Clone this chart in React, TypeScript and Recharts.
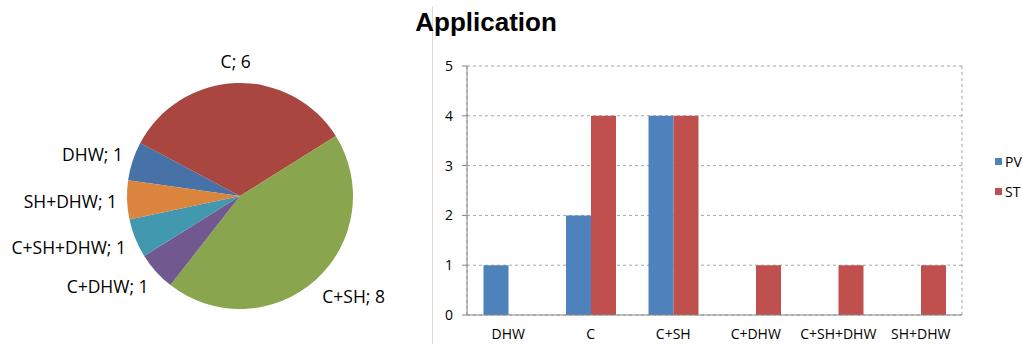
import React from 'react';
import {
  PieChart,
  Pie,
  Cell,
  BarChart,
  Bar,
  XAxis,
  YAxis,
  CartesianGrid
} from 'recharts';

const categories = ['DHW', 'C', 'C+SH', 'C+DHW', 'C+SH+DHW', 'SH+DHW'];
const totals = [1, 6, 8, 1, 1, 1];
const pvValues = [1, 2, 4, 0, 0, 0];
const stValues = [0, 4, 4, 1, 1, 1];
const yTicks = [0, 1, 2, 3, 4, 5];
const edgeTicks = [0, 1, 2, 3, 4, 5, 6];

const PIE_COLORS = ['#4672A7', '#A8463F', '#89A54E', '#71588F', '#4198AF', '#DB843D'];
const PV_COLOR = '#4F81BD';
const ST_COLOR = '#C0504D';
const FONT = '"Open Sans", sans-serif';

const pieData = categories.map((name, i) => ({ name, value: totals[i] }));
const barData = categories.map((name, i) => ({ name, PV: pvValues[i], ST: stValues[i] }));

const RAD = Math.PI / 180;

// outside-end labels "name; value", anchored by the side of the slice
const renderPieLabel = (props: any) => {
  const { cx, cy, midAngle, outerRadius, name, value } = props;
  const cos = Math.cos(midAngle * RAD);
  const sin = Math.sin(midAngle * RAD);
  const r = outerRadius + 10;
  const x = cx + r * cos;
  const y = cy - r * sin - sin * 12;
  const anchor = Math.abs(cos) < 0.3 ? 'middle' : cos > 0 ? 'start' : 'end';
  return (
    <text
      x={x}
      y={y}
      textAnchor={anchor}
      dominantBaseline="central"
      fill="#000"
      fontSize={17.5}
      fontFamily={FONT}
    >
      {`${name}; ${value}`}
    </text>
  );
};

const legendItems = [
  { label: 'PV', color: PV_COLOR, top: 152 },
  { label: 'ST', color: ST_COLOR, top: 182 }
];

export default function App() {
  return (
    <div
      style={{
        position: 'absolute',
        left: 0,
        top: 0,
        width: 1023,
        height: 344,
        background: '#fff',
        overflow: 'hidden',
        fontFamily: FONT
      }}
    >
      <div style={{ position: 'absolute', left: 0, top: 0 }}>
        <PieChart width={432} height={344} margin={{ top: 0, right: 0, bottom: 0, left: 0 }}>
          <Pie
            data={pieData}
            dataKey="value"
            nameKey="name"
            cx={240}
            cy={196}
            outerRadius={113}
            startAngle={172}
            endAngle={-188}
            stroke="none"
            label={renderPieLabel}
            labelLine={false}
            isAnimationActive={false}
          >
            {pieData.map((entry, index) => (
              <Cell key={`cell-${index}`} fill={PIE_COLORS[index % PIE_COLORS.length]} />
            ))}
          </Pie>
        </PieChart>
      </div>

      <div
        style={{
          position: 'absolute',
          left: 432,
          top: 6,
          bottom: 0,
          width: 1,
          background: '#D9D9D9'
        }}
      />

      <div
        style={{
          position: 'absolute',
          left: 386,
          width: 200,
          top: 5,
          textAlign: 'center',
          fontFamily: '"Liberation Sans", Arial, sans-serif',
          fontWeight: 'bold',
          fontSize: 26,
          lineHeight: '34px',
          color: '#000'
        }}
      >
        Application
      </div>

      <div style={{ position: 'absolute', left: 432, top: 0 }}>
        <BarChart
          width={591}
          height={344}
          data={barData}
          margin={{ top: 66, right: 61, bottom: 0, left: 0 }}
          barCategoryGap="20%"
          barGap={0}
        >
          <CartesianGrid
            xAxisId="edges"
            strokeDasharray="3 3"
            stroke="#A6A6A6"
          />
          <XAxis
            xAxisId="edges"
            type="number"
            domain={[0, 6]}
            ticks={edgeTicks}
            height={0}
            axisLine={false}
            tick={false}
            tickSize={6}
            tickLine={{ stroke: '#868686' }}
            allowDataOverflow
          />
          <XAxis
            dataKey="name"
            height={29}
            tickLine={false}
            tickSize={6}
            tickMargin={8}
            axisLine={{ stroke: '#868686' }}
            tick={{ fill: '#000', fontSize: 14, fontFamily: FONT }}
            interval={0}
          />
          <YAxis
            width={35}
            domain={[0, 5]}
            ticks={yTicks}
            tickSize={5}
            tickMargin={9}
            axisLine={{ stroke: '#868686' }}
            tickLine={{ stroke: '#868686' }}
            tick={{ fill: '#000', fontSize: 14, fontFamily: FONT }}
          />
          <Bar dataKey="PV" fill={PV_COLOR} isAnimationActive={false} />
          <Bar dataKey="ST" fill={ST_COLOR} isAnimationActive={false} />
        </BarChart>
      </div>

      {legendItems.map((item) => (
        <div
          key={item.label}
          style={{
            position: 'absolute',
            left: 995,
            top: item.top,
            height: 18,
            display: 'flex',
            alignItems: 'center',
            fontSize: 14,
            color: '#000'
          }}
        >
          <span
            style={{
              display: 'inline-block',
              width: 7,
              height: 7,
              background: item.color,
              marginRight: 3
            }}
          />
          <span>{item.label}</span>
        </div>
      ))}
    </div>
  );
}
